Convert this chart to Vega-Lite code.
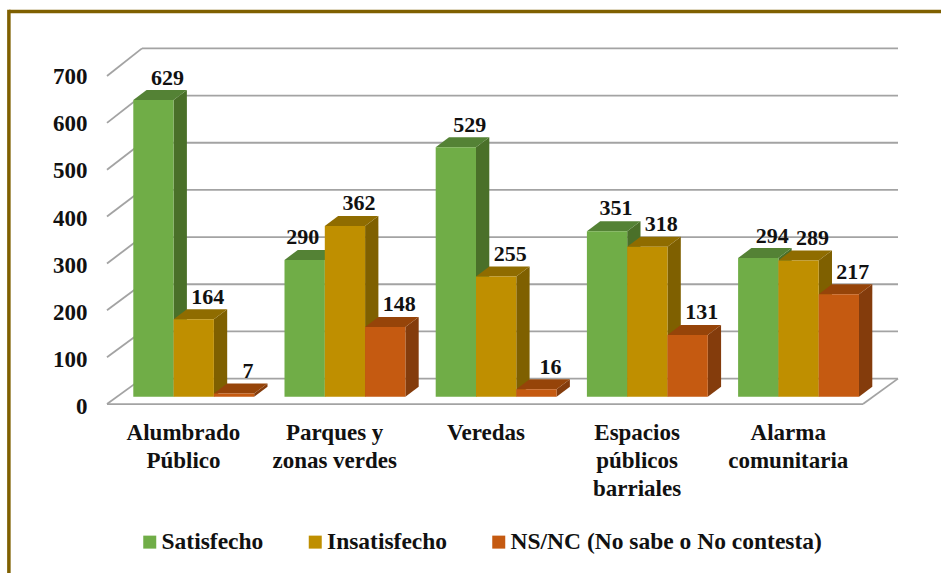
{
"$schema":"https://vega.github.io/schema/vega-lite/v6.json",
"width":941,"height":573,"padding":0,"autosize":{"type":"none"},"background":"white",
"config":{"view":{"stroke":null},"font":"Liberation Serif"},
"datasets":{
"barras":[
{"categoria":"Alumbrado Público","serie":"Satisfecho","valor":629},
{"categoria":"Alumbrado Público","serie":"Insatisfecho","valor":164},
{"categoria":"Alumbrado Público","serie":"NS/NC (No sabe o No contesta)","valor":7},
{"categoria":"Parques y zonas verdes","serie":"Satisfecho","valor":290},
{"categoria":"Parques y zonas verdes","serie":"Insatisfecho","valor":362},
{"categoria":"Parques y zonas verdes","serie":"NS/NC (No sabe o No contesta)","valor":148},
{"categoria":"Veredas","serie":"Satisfecho","valor":529},
{"categoria":"Veredas","serie":"Insatisfecho","valor":255},
{"categoria":"Veredas","serie":"NS/NC (No sabe o No contesta)","valor":16},
{"categoria":"Espacios públicos barriales","serie":"Satisfecho","valor":351},
{"categoria":"Espacios públicos barriales","serie":"Insatisfecho","valor":318},
{"categoria":"Espacios públicos barriales","serie":"NS/NC (No sabe o No contesta)","valor":131},
{"categoria":"Alarma comunitaria","serie":"Satisfecho","valor":294},
{"categoria":"Alarma comunitaria","serie":"Insatisfecho","valor":289},
{"categoria":"Alarma comunitaria","serie":"NS/NC (No sabe o No contesta)","valor":217}
],
"marcas":[{"v":0},{"v":100},{"v":200},{"v":300},{"v":400},{"v":500},{"v":600},{"v":700}]
},
"encoding":{
"x":{"field":"x","type":"quantitative","title":null,"scale":{"domain":[-0.8816,5.3419],"nice":false,"zero":false},
"axis":{"orient":"bottom","offset":-152,"values":[0.3287,1.3287,2.3287,3.3287,4.3287],"domain":false,"ticks":false,"grid":false,"labelPadding":0,"labelFont":"Liberation Serif","labelFontWeight":"bold","labelFontSize":23,"labelColor":"#111111","labelLineHeight":28,"labelOverlap":false,"labelBound":false,"labelFlush":false,"labelBaseline":"top","labelExpr":"split(['Alumbrado|Público','Parques y|zonas verdes','Veredas','Espacios|públicos|barriales','Alarma|comunitaria'][round(datum.value-0.3287)],'|')"}},
"y":{"field":"y","type":"quantitative","title":null,"stack":null,"scale":{"domain":[-373.7,841],"nice":false,"zero":false},
"axis":{"orient":"left","offset":-87,"values":[0,100,200,300,400,500,600,700],"domain":false,"ticks":false,"grid":false,"labelPadding":0,"labelOffset":10,"labelFont":"Liberation Serif","labelFontWeight":"bold","labelFontSize":23,"labelColor":"#111111"}}
},
"layer":[
{"data":{"name":"marcas"},"transform":[{"calculate":"0.0575","as":"x"},{"calculate":"5.0575","as":"x2"},{"calculate":"datum.v+38.4","as":"y"},{"calculate":"datum.v+38.4","as":"y2"}],
 "mark":{"type":"rule","color":"#a3a3a3","strokeWidth":1.8},"encoding":{"x2":{"field":"x2"},"y2":{"field":"y2"}}},
{"data":{"name":"marcas"},"transform":[{"calculate":"-0.174","as":"x"},{"calculate":"0.0575","as":"x2"},{"calculate":"-15.5+0.9934*datum.v","as":"y"},{"calculate":"datum.v+38.4","as":"y2"}],
 "mark":{"type":"rule","color":"#a3a3a3","strokeWidth":1.8},"encoding":{"x2":{"field":"x2"},"y2":{"field":"y2"}}},
{"data":{"name":"marcas"},"transform":[{"filter":"datum.v==0"},{"calculate":"-0.174","as":"x"},{"calculate":"4.826","as":"x2"},{"calculate":"-15.5","as":"y"},{"calculate":"-15.5","as":"y2"}],
 "mark":{"type":"rule","color":"#a3a3a3","strokeWidth":1.8},"encoding":{"x2":{"field":"x2"},"y2":{"field":"y2"}}},
{"data":{"name":"marcas"},"transform":[{"filter":"datum.v==0"},{"calculate":"4.826","as":"x"},{"calculate":"5.0575","as":"x2"},{"calculate":"-15.5","as":"y"},{"calculate":"38.4","as":"y2"}],
 "mark":{"type":"rule","color":"#a3a3a3","strokeWidth":1.8},"encoding":{"x2":{"field":"x2"},"y2":{"field":"y2"}}},
{"data":{"name":"marcas"},"transform":[{"filter":"datum.v==0"},{"calculate":"-0.8228","as":"x"},{"calculate":"5.3419","as":"x2"},{"calculate":"816.6","as":"y"},{"calculate":"816.6","as":"y2"}],
 "mark":{"type":"rule","color":"#7f6000","strokeWidth":3.5},"encoding":{"x2":{"field":"x2"},"y2":{"field":"y2"}}},
{"data":{"name":"marcas"},"transform":[{"filter":"datum.v==0"},{"calculate":"-0.8228","as":"x"},{"calculate":"-0.8228","as":"x2"},{"calculate":"820.3","as":"y"},{"calculate":"-373.7","as":"y2"}],
 "mark":{"type":"rule","color":"#7f6000","strokeWidth":3.5},"encoding":{"x2":{"field":"x2"},"y2":{"field":"y2"}}},
{"data":{"name":"barras"},"transform":[
 {"calculate":"indexof(['Alumbrado Público','Parques y zonas verdes','Veredas','Espacios públicos barriales','Alarma comunitaria'],datum.categoria)+indexof(['Satisfecho','Insatisfecho','NS/NC (No sabe o No contesta)'],datum.serie)*0.2665","as":"xl"},
 {"calculate":"[0,1]","as":"p"},{"flatten":["p"]},
 {"calculate":"datum.xl+0.2665+datum.p*0.088","as":"x"},
 {"calculate":"datum.valor+datum.p*21.2","as":"y"},
 {"calculate":"datum.p*21.2","as":"y2"},
 {"calculate":"datum.categoria+datum.serie","as":"clave"}],
 "mark":{"type":"area","interpolate":"linear"},
 "encoding":{"y2":{"field":"y2"},"detail":{"field":"clave"},"color":{"field":"serie","type":"nominal","legend":null,"scale":{"domain":["Satisfecho","Insatisfecho","NS/NC (No sabe o No contesta)"],"range":["#4a7029","#7f6000","#843c0c"]}}}},
{"data":{"name":"barras"},"transform":[
 {"calculate":"indexof(['Alumbrado Público','Parques y zonas verdes','Veredas','Espacios públicos barriales','Alarma comunitaria'],datum.categoria)+indexof(['Satisfecho','Insatisfecho','NS/NC (No sabe o No contesta)'],datum.serie)*0.2665","as":"xl"},
 {"calculate":"[0,1,2,3]","as":"p"},{"flatten":["p"]},
 {"calculate":"[datum.xl,datum.xl+0.088,datum.xl+0.2665,datum.xl+0.3545][datum.p]","as":"x"},
 {"calculate":"datum.valor+(datum.p>0?21.2:0)","as":"y"},
 {"calculate":"datum.valor+(datum.p==3?21.2:0)","as":"y2"},
 {"calculate":"datum.categoria+datum.serie","as":"clave"}],
 "mark":{"type":"area","interpolate":"linear"},
 "encoding":{"y2":{"field":"y2"},"detail":{"field":"clave"},"color":{"field":"serie","type":"nominal","legend":null,"scale":{"domain":["Satisfecho","Insatisfecho","NS/NC (No sabe o No contesta)"],"range":["#548235","#8f6c00","#964409"]}}}},
{"data":{"name":"barras"},"transform":[
 {"calculate":"indexof(['Alumbrado Público','Parques y zonas verdes','Veredas','Espacios públicos barriales','Alarma comunitaria'],datum.categoria)+indexof(['Satisfecho','Insatisfecho','NS/NC (No sabe o No contesta)'],datum.serie)*0.2665","as":"x"},
 {"calculate":"datum.x+0.2665","as":"x2"},{"calculate":"datum.valor","as":"y"},{"calculate":"0","as":"y2"}],
 "mark":{"type":"rect"},
 "encoding":{"x2":{"field":"x2"},"y2":{"field":"y2"},"color":{"field":"serie","type":"nominal","scale":{"domain":["Satisfecho","Insatisfecho","NS/NC (No sabe o No contesta)"],"range":["#70ad47","#bf8f00","#c55a11"]},
 "legend":{"title":null,"orient":"none","legendX":138,"legendY":530,"direction":"horizontal","columns":3,"symbolType":"square","symbolSize":169,"symbolStrokeWidth":0,"labelFont":"Liberation Serif","labelFontWeight":"bold","labelFontSize":23.5,"labelColor":"#111111","labelOffset":0,"columnPadding":39.5,"labelLimit":400}}}},
{"data":{"name":"barras"},"transform":[
 {"calculate":"indexof(['Alumbrado Público','Parques y zonas verdes','Veredas','Espacios públicos barriales','Alarma comunitaria'],datum.categoria)+indexof(['Satisfecho','Insatisfecho','NS/NC (No sabe o No contesta)'],datum.serie)*0.2665+0.13325","as":"x"},
 {"calculate":"datum.valor+21.2","as":"y"},
 {"filter":"!(datum.valor==290||datum.valor==351)"}],
 "mark":{"type":"text","font":"Liberation Serif","fontWeight":"bold","fontSize":22,"color":"#111111","baseline":"middle","xOffset":14,"yOffset":-12.5},
 "encoding":{"text":{"field":"valor","type":"quantitative"}}},
{"data":{"name":"barras"},"transform":[
 {"calculate":"indexof(['Alumbrado Público','Parques y zonas verdes','Veredas','Espacios públicos barriales','Alarma comunitaria'],datum.categoria)+indexof(['Satisfecho','Insatisfecho','NS/NC (No sabe o No contesta)'],datum.serie)*0.2665+0.13325","as":"x"},
 {"calculate":"datum.valor+21.2","as":"y"},
 {"filter":"datum.valor==290"}],
 "mark":{"type":"text","font":"Liberation Serif","fontWeight":"bold","fontSize":22,"color":"#111111","baseline":"middle","xOffset":-2,"yOffset":-13},
 "encoding":{"text":{"field":"valor","type":"quantitative"}}},
{"data":{"name":"barras"},"transform":[
 {"calculate":"indexof(['Alumbrado Público','Parques y zonas verdes','Veredas','Espacios públicos barriales','Alarma comunitaria'],datum.categoria)+indexof(['Satisfecho','Insatisfecho','NS/NC (No sabe o No contesta)'],datum.serie)*0.2665+0.13325","as":"x"},
 {"calculate":"datum.valor+21.2","as":"y"},
 {"filter":"datum.valor==351"}],
 "mark":{"type":"text","font":"Liberation Serif","fontWeight":"bold","fontSize":22,"color":"#111111","baseline":"middle","xOffset":9,"yOffset":-13},
 "encoding":{"text":{"field":"valor","type":"quantitative"}}}
],
"resolve":{"scale":{"color":"independent"}}
}
